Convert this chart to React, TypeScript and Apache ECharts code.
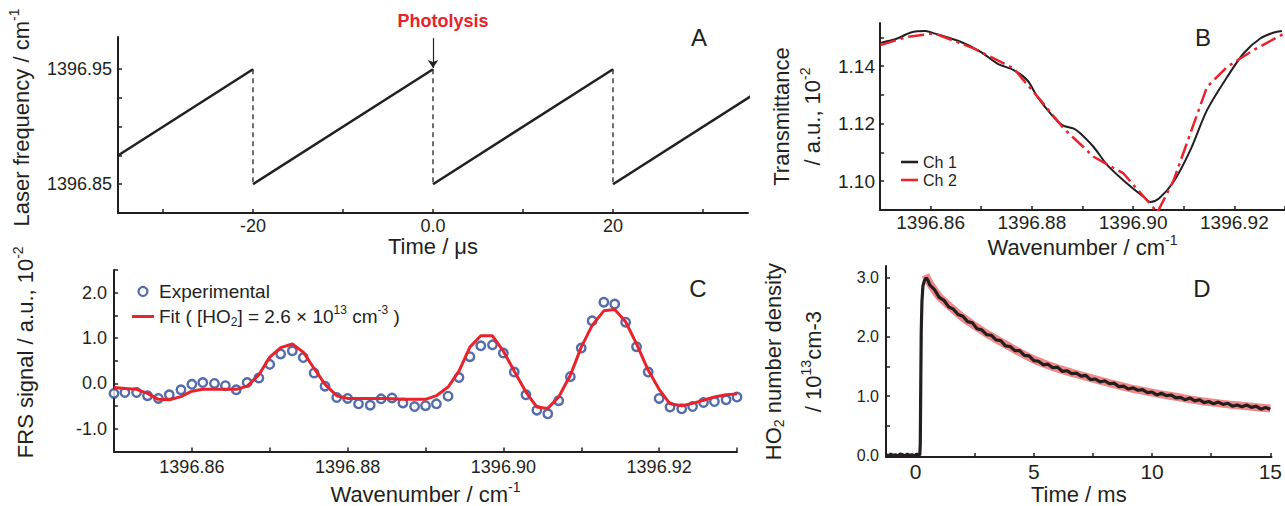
import { useEffect, useRef } from "react";
import * as echarts from "echarts";

const INK = "#231f20";
const RED = "#e8232b";
const BLUE = "#284796";
const BAND = "#ef7b7b";
const FONT = '"Liberation Sans", Arial, Helvetica, sans-serif';

// ---------- Panel A : laser frequency sawtooth ----------
const sawTime = [-35, -20, -20, 0, 0, 20, 20, 36];
const sawFreq = [1396.875, 1396.95, 1396.85, 1396.95, 1396.85, 1396.95, 1396.85, 1396.93];
const sawSolid = [[0, 1], [2, 3], [4, 5], [6, 7]];
const sawDashed = [[1, 2], [3, 4], [5, 6]];
const aTimeTicks = [-30, -20, -10, 0, 10, 20, 30];
const aTimeLabels = [-20, 0, 20];
const aFreqTicks = [1396.85, 1396.875, 1396.9, 1396.925, 1396.95];
const aFreqLabels = [1396.85, 1396.95];
const photolysisTime = 0;
const photolysisFreq = 1396.95;

// ---------- Panel B : transmittance ----------
const bCh1Wn = [1396.8501, 1396.8534, 1396.8561, 1396.859, 1396.8607, 1396.8659, 1396.8699, 1396.8732, 1396.8764, 1396.8791, 1396.8811, 1396.8837, 1396.886, 1396.8883, 1396.8896, 1396.8922, 1396.8949, 1396.8988, 1396.9021, 1396.9034, 1396.9051, 1396.908, 1396.9113, 1396.9146, 1396.9186, 1396.9218, 1396.9251, 1396.9278, 1396.9294];
const bCh1T = [1.1481, 1.1496, 1.1517, 1.1522, 1.1514, 1.1485, 1.145, 1.1409, 1.1386, 1.1351, 1.1293, 1.1235, 1.1195, 1.1183, 1.1166, 1.1119, 1.1056, 1.0992, 1.0945, 1.0928, 1.094, 1.0998, 1.1108, 1.1247, 1.1363, 1.1444, 1.1496, 1.1517, 1.1522];
const bCh2Wn = [1396.8501, 1396.8554, 1396.8607, 1396.8685, 1396.8764, 1396.8817, 1396.8863, 1396.8922, 1396.8981, 1396.9048, 1396.908, 1396.9113, 1396.9146, 1396.9186, 1396.9238, 1396.93];
const bCh2T = [1.1473, 1.1502, 1.1514, 1.1462, 1.1392, 1.1282, 1.1183, 1.1085, 1.1027, 1.0892, 1.1003, 1.1166, 1.1328, 1.1398, 1.1456, 1.1515];
const wnTicks = [1396.85, 1396.86, 1396.87, 1396.88, 1396.89, 1396.9, 1396.91, 1396.92, 1396.93];
const wnLabels = [1396.86, 1396.88, 1396.9, 1396.92];
const bTTicks = [1.1, 1.11, 1.12, 1.13, 1.14, 1.15];
const bTLabels = [1.1, 1.12, 1.14];

// ---------- Panel C : FRS signal ----------
const cWn = [1396.85, 1396.8514, 1396.8529, 1396.8543, 1396.8557, 1396.8571, 1396.8586, 1396.86, 1396.8614, 1396.8629, 1396.8643, 1396.8657, 1396.8671, 1396.8686, 1396.87, 1396.8714, 1396.8729, 1396.8743, 1396.8757, 1396.8771, 1396.8786, 1396.88, 1396.8814, 1396.8829, 1396.8843, 1396.8857, 1396.8871, 1396.8886, 1396.89, 1396.8914, 1396.8929, 1396.8943, 1396.8957, 1396.8971, 1396.8986, 1396.9, 1396.9014, 1396.9029, 1396.9043, 1396.9057, 1396.9071, 1396.9086, 1396.91, 1396.9114, 1396.9129, 1396.9143, 1396.9157, 1396.9171, 1396.9186, 1396.92, 1396.9214, 1396.9229, 1396.9243, 1396.9257, 1396.9271, 1396.9286, 1396.93];
const cExperimental = [-0.22, -0.2, -0.2, -0.27, -0.33, -0.25, -0.14, -0.02, 0.02, 0.0, -0.05, -0.14, 0.02, 0.12, 0.42, 0.65, 0.72, 0.57, 0.23, -0.06, -0.31, -0.33, -0.45, -0.48, -0.34, -0.32, -0.43, -0.51, -0.49, -0.45, -0.28, 0.13, 0.59, 0.83, 0.85, 0.67, 0.25, -0.25, -0.59, -0.67, -0.38, 0.15, 0.78, 1.38, 1.79, 1.75, 1.35, 0.81, 0.25, -0.33, -0.52, -0.56, -0.51, -0.42, -0.4, -0.36, -0.3];
const cFit = [-0.09, -0.11, -0.13, -0.22, -0.35, -0.36, -0.29, -0.17, -0.13, -0.13, -0.13, -0.13, -0.06, 0.19, 0.58, 0.79, 0.87, 0.69, 0.33, -0.02, -0.27, -0.33, -0.33, -0.33, -0.33, -0.34, -0.35, -0.35, -0.35, -0.27, -0.08, 0.27, 0.8, 1.05, 1.05, 0.71, 0.27, -0.19, -0.52, -0.55, -0.3, 0.18, 0.8, 1.28, 1.6, 1.63, 1.36, 0.87, 0.29, -0.13, -0.45, -0.49, -0.44, -0.37, -0.3, -0.25, -0.23];
const cSignalTicks = [-1.5, -1, -0.5, 0, 0.5, 1, 1.5, 2, 2.5];
const cSignalLabels = [-1, 0, 1, 2];

// ---------- Panel D : HO2 number density ----------
const dTime = [-1.25, -1.15, -1.05, -0.95, -0.85, -0.75, -0.65, -0.55, -0.45, -0.35, -0.25, -0.15, -0.05, 0.05, 0.12, 0.18, 0.2, 0.22, 0.24, 0.27, 0.31, 0.37, 0.45, 0.52,
  0.6, 0.8, 1.0, 1.2, 1.4, 1.6, 1.8, 2.0, 2.2, 2.4, 2.6, 2.8, 3.0, 3.2, 3.4, 3.6, 3.8, 4.0, 4.2, 4.4, 4.6, 4.8, 5.0, 5.2, 5.4, 5.6, 5.8, 6.0, 6.2, 6.4, 6.6, 6.8, 7.0, 7.2, 7.4, 7.6, 7.8, 8.0, 8.2, 8.4, 8.6, 8.8, 9.0, 9.2, 9.4, 9.6, 9.8, 10.0, 10.2, 10.4, 10.6, 10.8, 11.0, 11.2, 11.4, 11.6, 11.8, 12.0, 12.2, 12.4, 12.6, 12.8, 13.0, 13.2, 13.4, 13.6, 13.8, 14.0, 14.2, 14.4, 14.6, 14.8, 15.0];
const dDensity = [0.01, -0.01, 0.02, 0.0, 0.01, -0.01, 0.02, 0.01, -0.01, 0.02, 0.0, 0.01, -0.01, 0.02, 0.0, 0.01, 0.2, 1.2, 2.1, 2.6, 2.86, 2.95, 3.0, 2.96,
  2.88, 2.8, 2.67, 2.62, 2.51, 2.47, 2.38, 2.35, 2.26, 2.24, 2.14, 2.12, 2.04, 2.03, 1.95, 1.94, 1.85, 1.84, 1.77, 1.77, 1.69, 1.68, 1.6, 1.59, 1.53, 1.54, 1.48, 1.49, 1.42, 1.43, 1.38, 1.39, 1.34, 1.35, 1.28, 1.29, 1.24, 1.26, 1.21, 1.22, 1.16, 1.17, 1.12, 1.14, 1.1, 1.11, 1.06, 1.07, 1.02, 1.05, 1.01, 1.02, 0.97, 0.98, 0.94, 0.97, 0.92, 0.94, 0.89, 0.91, 0.87, 0.9, 0.86, 0.88, 0.83, 0.85, 0.82, 0.85, 0.81, 0.83, 0.78, 0.81, 0.78];
const dFitTime = [0.42, 0.6, 0.8, 1.0, 1.5, 2.0, 2.5, 3.0, 4.0, 5.0, 6.0, 7.0, 8.0, 9.0, 10.0, 11.0, 12.0, 13.0, 14.0, 15.0];
const dFitDensity = [3.05, 2.91, 2.79, 2.68, 2.5, 2.33, 2.19, 2.06, 1.83, 1.62, 1.47, 1.35, 1.24, 1.14, 1.06, 0.99, 0.92, 0.87, 0.83, 0.79];
const dTimeTicks = [0, 2.5, 5, 7.5, 10, 12.5, 15];
const dTimeLabels = [0, 5, 10, 15];
const dDensTicks = [0, 0.5, 1, 1.5, 2, 2.5, 3];
const dDensLabels = [0, 1, 2, 3];

const zip = (a: number[], b: number[]) => a.map((v, i) => [v, b[i]]);

const rich = (size: number, lh?: number) => {
  const s = Math.round(size * 0.65);
  const base: any = { fontFamily: FONT, color: INK };
  if (lh) base.lineHeight = lh;
  return {
    n: { ...base, fontSize: size },
    sup: { ...base, fontSize: s, padding: [0, 0, Math.round(size * 0.7), 0] },
    sub: { ...base, fontSize: s, padding: [Math.round(size * 0.5), 0, 0, 0] },
  };
};

const nameStyle = (size: number, extra: any = {}, lh?: number) => ({
  fontSize: size,
  fontFamily: FONT,
  color: INK,
  rich: rich(size, lh),
  ...(lh ? { lineHeight: lh } : {}),
  ...extra,
});

function valueAxis(opts: any) {
  const { grid, min, max, ticks, labels, fmt, labelSize, margin, name, nameGap, nameSize, rotate, nameExtra, lh } = opts;
  return {
    type: "value",
    gridIndex: grid,
    min,
    max,
    axisLine: { show: true, onZero: false, lineStyle: { color: INK, width: 2 } },
    axisTick: { show: true, inside: true, length: 4, customValues: ticks, lineStyle: { color: INK, width: 1.5 } },
    axisLabel: { show: true, customValues: labels, formatter: fmt, fontSize: labelSize, color: INK, fontFamily: FONT, margin },
    splitLine: { show: false },
    name,
    nameLocation: "middle",
    nameGap,
    nameRotate: rotate ? 90 : 0,
    nameTextStyle: nameStyle(nameSize, nameExtra, lh),
  };
}

const lineIcon = "path://M0,0H40V6H0Z";

export default function App() {
  const ref = useRef<HTMLDivElement>(null);
  useEffect(() => {
    if (!ref.current) return;
    const chart = echarts.init(ref.current, undefined, { renderer: "svg" });

    const sawSeries: any[] = [];
    sawSolid.forEach(([i, j]) =>
      sawSeries.push({
        type: "line", xAxisIndex: 0, yAxisIndex: 0, silent: true, symbol: "none", clip: false,
        data: [[sawTime[i], sawFreq[i]], [sawTime[j], sawFreq[j]]],
        lineStyle: { color: INK, width: 2.5 },
      })
    );
    sawDashed.forEach(([i, j]) =>
      sawSeries.push({
        type: "line", xAxisIndex: 0, yAxisIndex: 0, silent: true, symbol: "none",
        data: [[sawTime[i], sawFreq[i]], [sawTime[j], sawFreq[j]]],
        lineStyle: { color: INK, width: 1.3, type: [5, 4] },
      })
    );
    sawSeries.push({
      type: "line", xAxisIndex: 0, yAxisIndex: 0, silent: true, symbol: "none",
      data: [[photolysisTime, photolysisFreq]],
      markLine: {
        silent: true,
        symbol: ["none", "arrow"],
        symbolSize: 8,
        label: { show: false },
        lineStyle: { color: INK, width: 1.2, type: "solid" },
        data: [[{ coord: [photolysisTime, 1396.977] }, { coord: [photolysisTime, photolysisFreq + 0.001] }]],
      },
    });

    const letter = (t: string, x: number, y: number) => ({
      type: "text", x, y,
      style: { text: t, fontSize: 24, fontFamily: FONT, fill: INK, align: "center", verticalAlign: "middle" },
    });

    const option: any = {
      animation: false,
      backgroundColor: "#ffffff",
      textStyle: { fontFamily: FONT },
      grid: [
        { left: 118, top: 37, width: 630, height: 176 },
        { left: 880, top: 23, width: 405, height: 187 },
        { left: 114, top: 270, width: 623, height: 183 },
        { left: 886, top: 266, width: 387, height: 196 },
      ],
      xAxis: [
        valueAxis({ grid: 0, min: -35, max: 35, ticks: aTimeTicks, labels: aTimeLabels, fmt: (v: number) => (v === 0 ? "0.0" : String(v)), labelSize: 18, margin: 4, name: "Time / μs", nameGap: 13, nameSize: 22 }),
        valueAxis({ grid: 1, min: 1396.85, max: 1396.93, ticks: wnTicks, labels: wnLabels, fmt: (v: number) => v.toFixed(2), labelSize: 19, margin: 3, name: "Wavenumber / cm{sup|-1}", nameGap: 13, nameSize: 22 }),
        valueAxis({ grid: 2, min: 1396.85, max: 1396.93, ticks: wnTicks, labels: wnLabels, fmt: (v: number) => v.toFixed(2), labelSize: 18, margin: 6, name: "Wavenumber / cm{sup|-1}", nameGap: 28, nameSize: 22 }),
        valueAxis({ grid: 3, min: -1.25, max: 15.05, ticks: dTimeTicks, labels: dTimeLabels, fmt: (v: number) => String(v), labelSize: 21, margin: 4, name: "Time / ms", nameGap: 22, nameSize: 22 }),
      ],
      yAxis: [
        valueAxis({ grid: 0, min: 1396.825, max: 1396.978, ticks: aFreqTicks, labels: aFreqLabels, fmt: (v: number) => v.toFixed(2), labelSize: 18, margin: 6, name: "Laser frequency / cm{sup|-1}", nameGap: 82, nameSize: 22, rotate: true, nameExtra: { padding: [0, 0, 0, 15] } }),
        valueAxis({ grid: 1, min: 1.09, max: 1.155, ticks: bTTicks, labels: bTLabels, fmt: (v: number) => v.toFixed(2), labelSize: 19, margin: 5, name: "{n|Transmittance}\n{n|/ a.u., 10}{sup|-2}", nameGap: 52, nameSize: 22, rotate: true, lh: 31 }),
        valueAxis({ grid: 2, min: -1.5, max: 2.5, ticks: cSignalTicks, labels: cSignalLabels, fmt: (v: number) => v.toFixed(1), labelSize: 18, margin: 7, name: "FRS signal / a.u., 10{sup|-2}", nameGap: 74, nameSize: 22, rotate: true, nameExtra: { padding: [0, 0, 0, 17] } }),
        valueAxis({ grid: 3, min: -0.03, max: 3.2, ticks: dDensTicks, labels: dDensLabels, fmt: (v: number) => v.toFixed(1), labelSize: 16, margin: 7, name: "{n|HO}{sub|2}{n| number density}\n{n|/ 10}{sup|13}{n|cm-3}", nameGap: 53, nameSize: 22, rotate: true, lh: 40 }),
      ],
      legend: [
        {
          data: [
            { name: "Ch 1", icon: lineIcon, itemStyle: { color: INK } },
            { name: "Ch 2", icon: lineIcon, itemStyle: { color: RED } },
          ],
          orient: "vertical", left: 901, top: 154, padding: 0,
          itemWidth: 17, itemHeight: 10, itemGap: 2,
          textStyle: { fontSize: 16, color: INK, fontFamily: FONT },
          selectedMode: false,
        },
        {
          data: [
            { name: "Experimental", icon: "circle", itemStyle: { color: "#ffffff", borderColor: BLUE, borderWidth: 2.2 } },
            { name: "Fit", icon: "path://M0,0H44V6H0Z", itemStyle: { color: RED } },
          ],
          orient: "vertical", left: 132, top: 282, padding: 0,
          itemWidth: 22, itemHeight: 9, itemGap: 3,
          selectedMode: false,
          formatter: (name: string) => (name === "Fit" ? "Fit ( [HO{sub|2}] = 2.6 × 10{sup|13} cm{sup|-3} )" : name),
          textStyle: { fontSize: 19, color: INK, fontFamily: FONT, rich: rich(19) },
        },
      ],
      graphic: [
        letter("A", 699, 37),
        letter("B", 1203, 37),
        letter("C", 698, 288),
        letter("D", 1202, 288),
        { type: "text", x: 443, y: 21, style: { text: "Photolysis", fontSize: 18, fontWeight: "bold", fontFamily: FONT, fill: RED, align: "center", verticalAlign: "middle" } },
      ],
      series: [
        ...sawSeries,
        {
          name: "Ch 1", type: "line", xAxisIndex: 1, yAxisIndex: 1, symbol: "none", smooth: 0.3,
          data: zip(bCh1Wn, bCh1T), lineStyle: { color: INK, width: 2 }, itemStyle: { color: INK },
        },
        {
          name: "Ch 2", type: "line", xAxisIndex: 1, yAxisIndex: 1, symbol: "none",
          data: zip(bCh2Wn, bCh2T), lineStyle: { color: RED, width: 2.5, type: [16, 5, 3, 5] }, itemStyle: { color: RED },
        },
        {
          name: "Experimental", type: "scatter", xAxisIndex: 2, yAxisIndex: 2, symbol: "circle", symbolSize: 8.5,
          data: zip(cWn, cExperimental), itemStyle: { color: "#ffffff", borderColor: BLUE, borderWidth: 2.4 }, z: 3,
        },
        {
          name: "Fit", type: "line", xAxisIndex: 2, yAxisIndex: 2, symbol: "none",
          data: zip(cWn, cFit), lineStyle: { color: RED, width: 3 }, itemStyle: { color: RED }, z: 4,
        },
        {
          name: "Fit density", type: "line", xAxisIndex: 3, yAxisIndex: 3, symbol: "none", smooth: 0.3,
          data: zip(dFitTime, dFitDensity), lineStyle: { color: BAND, width: 8, opacity: 0.9 },
        },
        {
          name: "HO2 trace", type: "line", xAxisIndex: 3, yAxisIndex: 3, symbol: "none",
          data: zip(dTime, dDensity), lineStyle: { color: INK, width: 3.2 }, z: 3,
        },
      ],
    };
    chart.setOption(option);
    return () => chart.dispose();
  }, []);
  return (
    <div
      ref={ref}
      style={{ position: "fixed", left: 0, top: 0, width: 1285, height: 506, background: "#fff" }}
    />
  );
}
